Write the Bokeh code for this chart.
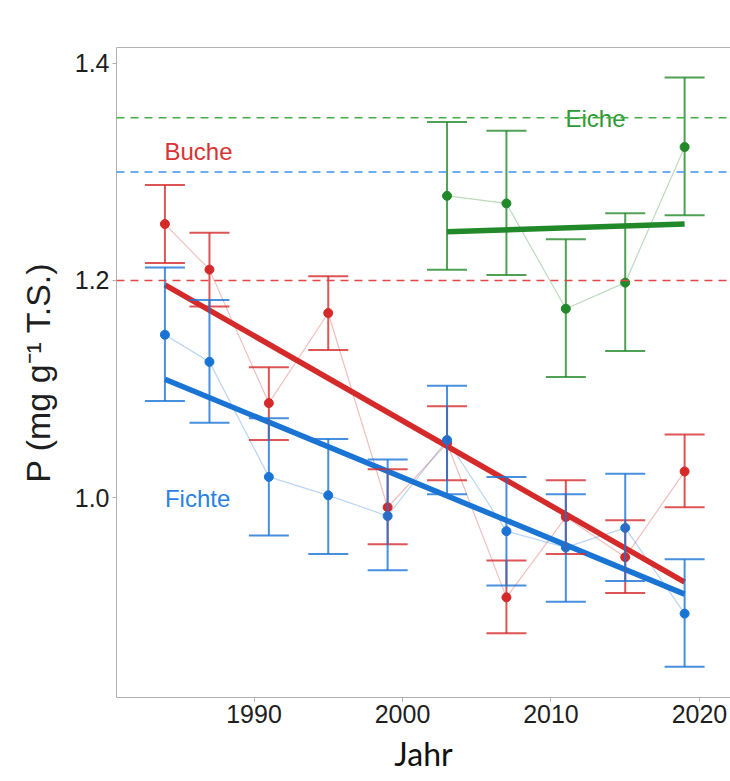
from bokeh.plotting import figure
from bokeh.models import (ColumnDataSource, Whisker, TeeHead, Span, Title,
                          FixedTicker, LinearAxis)
from bokeh.core.properties import value
from bokeh.embed import file_html
from bokeh.resources import INLINE

# ---------------- data ----------------
years = [1984, 1987, 1991, 1995, 1999, 2003, 2007, 2011, 2015, 2019]
buche_mean = [1.252, 1.210, 1.087, 1.170, 0.991, 1.050, 0.908, 0.982, 0.945, 1.024]
buche_upper = [1.288, 1.244, 1.120, 1.204, 1.026, 1.084, 0.942, 1.016, 0.979, 1.058]
buche_lower = [1.216, 1.176, 1.053, 1.136, 0.957, 1.016, 0.875, 0.948, 0.912, 0.991]

fichte_mean = [1.150, 1.125, 1.019, 1.002, 0.983, 1.053, 0.969, 0.954, 0.972, 0.893]
fichte_upper = [1.212, 1.182, 1.073, 1.054, 1.035, 1.103, 1.019, 1.003, 1.022, 0.943]
fichte_lower = [1.089, 1.069, 0.965, 0.948, 0.933, 1.003, 0.919, 0.904, 0.923, 0.844]

eiche_years = [2003, 2007, 2011, 2015, 2019]
eiche_mean = [1.278, 1.271, 1.174, 1.198, 1.323]
eiche_upper = [1.346, 1.338, 1.238, 1.262, 1.387]
eiche_lower = [1.210, 1.205, 1.111, 1.135, 1.260]

trend_years = [1984, 2019]
buche_trend = [1.196, 0.922]
fichte_trend = [1.109, 0.911]
eiche_trend_years = [2003, 2019]
eiche_trend = [1.245, 1.252]

ref_eiche = 1.35
ref_fichte = 1.30
ref_buche = 1.20

x_ticks = [1990, 2000, 2010, 2020]
y_ticks = [1.0, 1.2, 1.4]

# ---------------- style ----------------
RED = "#d42a2a"
BLUE = "#1a74d4"
GREEN = "#22892a"
AXIS_GRAY = "#b0b0b0"
TXT = "#1e1e1e"

p = figure(width=730, height=781, x_range=(1980.74, 2022.09),
           y_range=(0.8157, 1.4147), output_backend="svg",
           toolbar_location=None, min_border_left=116, min_border_right=0,
           min_border_top=47, min_border_bottom=84)
p.background_fill_color = "white"
p.border_fill_color = "white"
p.outline_line_color = None
p.grid.visible = False

for ax in (p.xaxis[0], p.yaxis[0]):
    ax.axis_line_color = AXIS_GRAY
    ax.major_tick_line_color = AXIS_GRAY
    ax.major_tick_out = 4
    ax.major_tick_in = 0
    ax.minor_tick_line_color = None
    ax.major_label_text_font = "Liberation Sans"
    ax.major_label_text_font_size = "25px"
    ax.major_label_text_color = TXT
    ax.major_label_standoff = 3

p.xaxis.ticker = FixedTicker(ticks=x_ticks)
p.yaxis.ticker = FixedTicker(ticks=y_ticks)
p.yaxis.major_label_overrides = {1.0: "1.0", 1.2: "1.2", 1.4: "1.4"}
p.yaxis.axis_label = "P (mg g\u207b\u00b9 T.S.)"
p.yaxis.axis_label_text_font = "Liberation Sans"
p.yaxis.axis_label_text_font_size = "34px"
p.yaxis.axis_label_text_font_style = "normal"
p.yaxis.axis_label_text_color = TXT
p.yaxis.axis_label_standoff = 15

top = LinearAxis(ticker=FixedTicker(ticks=[]), axis_line_color=AXIS_GRAY,
                 major_tick_line_color=None, minor_tick_line_color=None,
                 major_label_text_font_size="0px")
p.add_layout(top, "above")

# reference dashed lines
for lvl, col in ((ref_eiche, "#45ad45"), (ref_fichte, "#3f92ec"), (ref_buche, "#e44646")):
    p.add_layout(Span(location=lvl, dimension="width", line_color=col,
                      line_dash="8 6", line_width=1.6))

series = [
    (years, buche_mean, buche_upper, buche_lower, RED),
    (years, fichte_mean, fichte_upper, fichte_lower, BLUE),
    (eiche_years, eiche_mean, eiche_upper, eiche_lower, GREEN),
]

point_sources = []
for xs, m, up, lo, col in series:
    src = ColumnDataSource(dict(x=xs, m=m, up=up, lo=lo))
    point_sources.append((src, col))
    p.line("x", "m", source=src, line_color=col, line_alpha=0.3, line_width=1.2)
    w = Whisker(base="x", upper="up", lower="lo", source=src, dimension="height",
                line_color=col, line_alpha=0.8, line_width=2,
                upper_head=TeeHead(size=40, line_color=col, line_alpha=0.8, line_width=2),
                lower_head=TeeHead(size=40, line_color=col, line_alpha=0.8, line_width=2))
    w.level = "glyph"
    p.add_layout(w)

# trend lines
p.line(trend_years, buche_trend, line_color=RED, line_width=5.5)
p.line(trend_years, fichte_trend, line_color=BLUE, line_width=5.5)
p.line(eiche_trend_years, eiche_trend, line_color=GREEN, line_width=5.5)

for src, col in point_sources:
    p.scatter("x", "m", source=src, size=9, fill_color=col, line_color=col)

# species labels
p.text(x=[1986.26], y=[1.319], text=["Buche"], text_color="#d83434",
       text_font=value("Liberation Sans"), text_font_size="24px",
       text_align="center", text_baseline="middle")
p.text(x=[2013.0], y=[1.349], text=["Eiche"], text_color="#2e9a34",
       text_font=value("Liberation Sans"), text_font_size="24px",
       text_align="center", text_baseline="middle")
p.text(x=[1986.2], y=[0.999], text=["Fichte"], text_color="#2a82e0",
       text_font=value("Liberation Sans"), text_font_size="24px",
       text_align="center", text_baseline="middle")

# x-axis title (separate text, like the reference)
p.add_layout(Title(text="Jahr", align="center", offset=-13, text_font="Lato",
                   text_font_size="32px", text_font_style="normal",
                   text_color="#111111", standoff=13,
                   vertical_align="bottom"), "below")

open("out.html", "w").write(file_html(p, INLINE))
